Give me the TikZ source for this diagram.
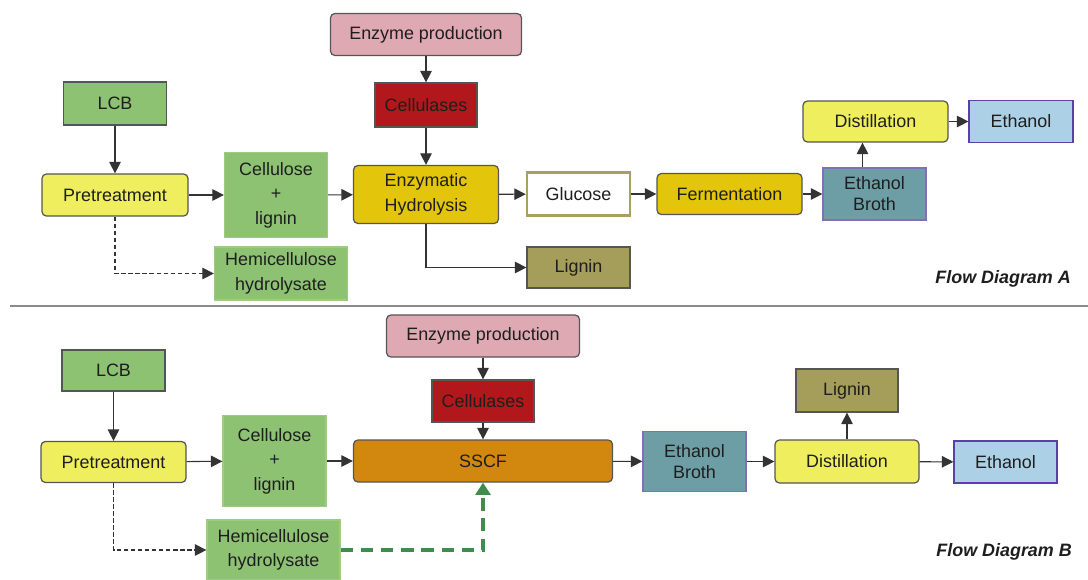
\documentclass[tikz,border=0pt]{standalone}
\usepackage{fontspec}
\setmainfont{Liberation Sans}
\usetikzlibrary{arrows.meta}

\begin{document}
\begin{tikzpicture}[x=0.02cm,y=-0.02cm,
  sz/.style 2 args={minimum width=#1*0.02cm,minimum height=#2*0.02cm},
  box/.style={draw=boxline,line width=0.7pt,text=txt,inner sep=0pt,align=center,
    font=\fontsize{10.2}{14}\selectfont},
  rbox/.style={box,rounded corners=2.5pt},
  flow/.style={draw=conn,line width=0.6pt,-{Triangle[length=6.5pt,width=6.5pt]}},
  side/.style={flow,dash pattern=on 2.5pt off 1.5pt},
  feed/.style={draw=feedgreen,line width=1.8pt,dash pattern=on 7pt off 4.5pt,
    -{Triangle[length=7pt,width=8.5pt]}},
  lab/.style={anchor=east,text=txt,font=\fontsize{10.2}{12}\selectfont\bfseries\itshape}]
  \definecolor{boxline}{HTML}{555555}
  \definecolor{conn}{HTML}{333333}
  \definecolor{txt}{HTML}{1E1E1E}
  \definecolor{leaf}{HTML}{8DC273}
  \definecolor{leafedge}{HTML}{9CCB83}
  \definecolor{lemon}{HTML}{EEEE5E}
  \definecolor{rose}{HTML}{DEA9B3}
  \definecolor{enzred}{HTML}{B2181B}
  \definecolor{gold}{HTML}{E3C50B}
  \definecolor{brine}{HTML}{6E9EA5}
  \definecolor{brothedge}{HTML}{8070B8}
  \definecolor{sky}{HTML}{ACD0E5}
  \definecolor{skyedge}{HTML}{5D3FA8}
  \definecolor{olive}{HTML}{A59E5B}
  \definecolor{amber}{HTML}{D2880F}
  \definecolor{glucedge}{HTML}{A8A060}
  \definecolor{feedgreen}{HTML}{3F8C4C}
  \definecolor{rule}{HTML}{8A8A8A}
  \useasboundingbox (0,0) rectangle (1088,579);

  % flow diagram A
  \node[rbox,fill=rose,sz={191}{42}] (enzA) at (426,34.5) {Enzyme production};
  \node[box,fill=enzred,sz={102}{44}] (celA) at (426,105) {Cellulases};
  \node[box,fill=leaf,sz={103}{43}] (lcbA) at (115,103.5) {LCB};
  \node[rbox,fill=lemon,sz={146}{42}] (preA) at (115,195) {Pretreatment};
  \node[box,fill=leaf,draw=leafedge,sz={103}{85}] (cellA) at (276,195) {Cellulose\\+\\lignin};
  \node[box,fill=leaf,draw=leafedge,sz={133}{53}] (hemiA) at (281,273.5) {Hemicellulose\\hydrolysate};
  \node[rbox,fill=gold,sz={145}{58}] (hydA) at (426,194.5) {Enzymatic\\Hydrolysis};
  \node[box,fill=white,draw=glucedge,line width=1.4pt,sz={103}{43}] (gluA) at (578.5,194) {Glucose};
  \node[rbox,fill=gold,sz={145}{41}] (ferA) at (729.5,194) {Fermentation};
  \node[box,fill=brine,draw=brothedge,sz={103}{52},font=\fontsize{10.2}{12}\selectfont] (brothA) at (874.5,194) {Ethanol\\Broth};
  \node[rbox,fill=lemon,sz={145}{41}] (distA) at (875.5,121.5) {Distillation};
  \node[box,fill=sky,draw=skyedge,sz={104}{42}] (ethA) at (1021,121.5) {Ethanol};
  \node[box,fill=olive,sz={103}{41}] (ligA) at (578.5,267.5) {Lignin};
  \node[lab] (labA) at (1077,279) {Flow Diagram A};

  \draw[flow] (enzA) -- (celA);
  \draw[flow] (celA) -- (hydA);
  \draw[flow] (lcbA) -- (preA);
  \draw[flow] (preA) -- (cellA);
  \draw[flow] (cellA) -- (hydA);
  \draw[flow] (hydA) -- (gluA);
  \draw[flow] (gluA) -- (ferA);
  \draw[flow] (ferA) -- (brothA);
  \draw[flow] ([xshift=-0.24cm]brothA.north) -- ([xshift=-0.24cm]brothA.north |- distA.south);
  \draw[flow] (distA) -- (ethA);
  \draw[flow] (hydA.south) |- (ligA.west);
  \draw[side] (preA.south) |- (hemiA.west);

  \draw[rule,line width=0.8pt] (10,306) -- (1088,306);

  % flow diagram B
  \node[rbox,fill=rose,sz={193}{42}] (enzB) at (483,336) {Enzyme production};
  \node[box,fill=enzred,sz={102}{42}] (celB) at (483,401) {Cellulases};
  \node[box,fill=leaf,sz={103}{41}] (lcbB) at (113.5,370.5) {LCB};
  \node[rbox,fill=lemon,sz={145}{41}] (preB) at (113.5,462) {Pretreatment};
  \node[box,fill=leaf,draw=leafedge,sz={103}{91}] (cellB) at (274.5,461) {Cellulose\\+\\lignin};
  \node[box,fill=leaf,draw=leafedge,sz={133}{60}] (hemiB) at (273.5,550) {Hemicellulose\\hydrolysate};
  \node[rbox,fill=amber,sz={259}{42}] (sscfB) at (483,461) {SSCF};
  \node[box,fill=brine,draw=brothedge,sz={103}{60},font=\fontsize{10.2}{12}\selectfont] (brothB) at (694.5,461.5) {Ethanol\\Broth};
  \node[rbox,fill=lemon,sz={144}{43}] (distB) at (847,461.5) {Distillation};
  \node[box,fill=olive,sz={102}{43}] (ligB) at (847,390.5) {Lignin};
  \node[box,fill=sky,draw=skyedge,sz={103}{42}] (ethB) at (1005.5,462) {Ethanol};
  \node[lab] (labB) at (1078,552) {Flow Diagram B};

  \draw[flow] (lcbB) -- (preB);
  \draw[flow] (preB) -- (cellB);
  \draw[flow] (cellB) -- (sscfB);
  \draw[flow] (enzB) -- (celB);
  \draw[flow] (celB) -- (sscfB);
  \draw[flow] (sscfB) -- (brothB);
  \draw[flow] (brothB) -- (distB);
  \draw[flow] (distB) -- (ligB);
  \draw[flow] (distB) -- (ethB);
  \draw[side] (preB.south) |- (hemiB.west);
  \draw[feed] (hemiB.east) -| (sscfB.south);
\end{tikzpicture}
\end{document}
